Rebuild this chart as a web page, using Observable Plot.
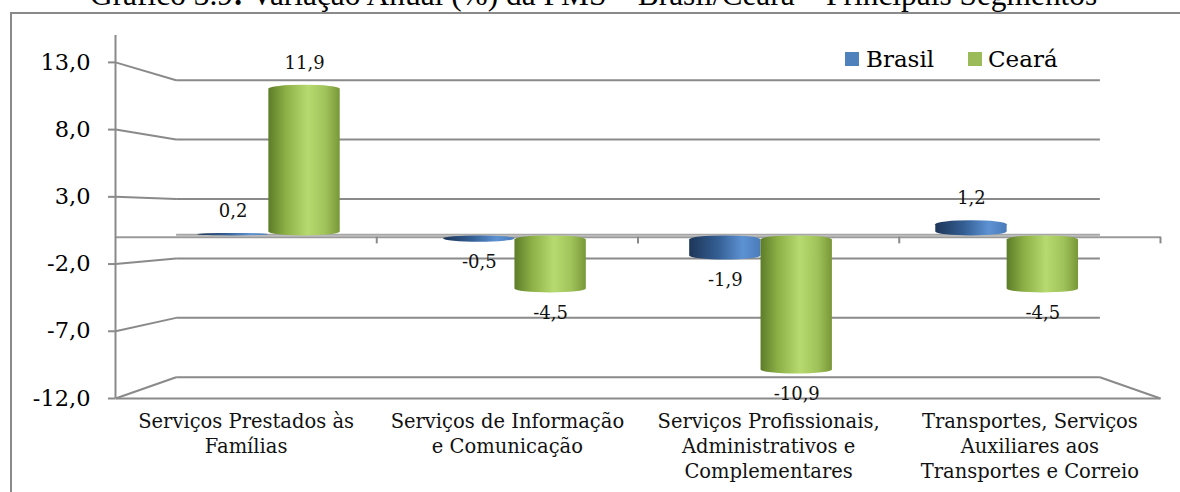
<!DOCTYPE html>
<html><head><meta charset="utf-8">
<script src="https://cdn.jsdelivr.net/npm/d3@7"></script>
<script src="https://cdn.jsdelivr.net/npm/@observablehq/plot@0.6"></script>
<style>
body{margin:0;background:#fff;}
#wrap{position:relative;width:1180px;height:492px;overflow:hidden;background:#fff;}
#title{position:absolute;left:90px;top:-21px;white-space:nowrap;font-family:"Liberation Serif",serif;font-size:31.4px;line-height:31.4px;color:#000;}
#border{position:absolute;left:10px;top:12px;width:2000px;height:2000px;border:2px solid #8a8a8a;box-sizing:border-box;}
#chart{position:absolute;left:0;top:0;}
.lg{position:absolute;font-family:"DejaVu Serif",serif;font-size:23px;line-height:23px;color:#000;white-space:nowrap;}
.sw{position:absolute;width:14px;height:14px;}
</style></head>
<body>
<div id="wrap">
  <div id="title">Gráfico 3.9<b>:</b> Variação Anual (%) da PMS – Brasil/Ceará – Principais Segmentos</div>
  <div id="border"></div>
  <div id="chart"></div>
  <div class="sw" style="left:845px;top:52px;background:#4f81bd"></div>
  <div class="lg" id="lgB" style="left:866px;top:48px">Brasil</div>
  <div class="sw" style="left:968px;top:52px;background:#9bbb59"></div>
  <div class="lg" id="lgC" style="left:988px;top:48px">Ceará</div>
</div>
<script>
const categories = [
  "Serviços Prestados às\nFamílias",
  "Serviços de Informação\ne Comunicação",
  "Serviços Profissionais,\nAdministrativos e\nComplementares",
  "Transportes, Serviços\nAuxiliares aos\nTransportes e Correio"
];
const series = ["Brasil", "Ceará"];
const brasil = [0.2, -0.5, -1.9, 1.2];
const ceara = [11.9, -4.5, -10.9, -4.5];
const yTicks = [13, 8, 3, -2, -7, -12];

const fmt = v => v.toFixed(1).replace(".", ",");

// simple perspective: depth 0 = front plane, 0.5 = bars, 1 = back wall
const VP = [2, 1.6];
const k = d => 1 - 0.116 * d;
const px = (c, d) => VP[0] + k(d) * (c - VP[0]);
const py = (v, d) => VP[1] + k(d) * (v - VP[1]);

const values = [brasil, ceara];
const bars = categories.flatMap((cat, i) => series.map((s, j) => {
  const v = values[j][i];
  return {
    cat, s, v,
    x1: px(i + 0.21 + 0.29 * j, 0.5),
    x2: px(i + 0.50 + 0.29 * j, 0.5),
    y1: py(0, 0.5),
    y2: py(v, 0.5)
  };
}));
const gridColor = "#8a8a8a";
const floorV = yTicks[yTicks.length - 1];

const chart = Plot.plot({
  width: 1180,
  height: 492,
  marginLeft: 115,
  marginRight: 20,
  marginTop: 35,
  marginBottom: 94,
  style: {fontFamily: "DejaVu Serif", background: "transparent", overflow: "visible"},
  x: {domain: [0, categories.length], axis: null},
  y: {domain: [floorV, 15], axis: null},
  marks: [
    // back wall gridlines
    Plot.link(yTicks, {x1: () => px(0, 1), x2: () => px(categories.length, 1), y1: t => py(t, 1), y2: t => py(t, 1), stroke: gridColor, strokeWidth: 2}),
    // left side-wall diagonals
    Plot.link(yTicks, {x1: () => 0, y1: t => t, x2: () => px(0, 1), y2: t => py(t, 1), stroke: gridColor, strokeWidth: 2}),
    // floor front edge and right diagonal
    Plot.link([floorV], {x1: () => 0, x2: () => categories.length, y1: t => t, y2: t => t, stroke: gridColor, strokeWidth: 2}),
    Plot.link([floorV], {x1: () => categories.length, y1: t => t, x2: () => px(categories.length, 1), y2: t => py(t, 1), stroke: gridColor, strokeWidth: 2}),
    // zero plane
    Plot.link([0], {x1: () => px(0, 1), x2: () => px(categories.length, 1), y1: t => py(t, 1), y2: t => py(t, 1), stroke: "#a6a6a6", strokeWidth: 2}),
    Plot.link([0], {x1: () => 0, x2: () => categories.length, y1: t => t, y2: t => t, stroke: "#9a9a9a", strokeWidth: 2}),
    Plot.ruleX(d3.range(1, categories.length + 1), {y1: () => 0, y2: () => -0.5, stroke: gridColor, strokeWidth: 2}),
    // bars
    Plot.rect(bars, {x1: "x1", x2: "x2", y1: "y1", y2: "y2", fill: d => d.s === "Brasil" ? "url(#gBlue)" : "url(#gGreen)", rx: 40, ry: 4}),
    // value labels
    Plot.text(bars.filter(d => d.v >= 0), {x: d => (d.x1 + d.x2) / 2, y: "y2", text: d => fmt(d.v), dy: -22, fontSize: 18, fill: "#111"}),
    Plot.text(bars.filter(d => d.v < 0), {x: d => (d.x1 + d.x2) / 2, y: "y2", text: d => fmt(d.v), dy: 20, fontSize: 18, fill: "#111"}),
    // front vertical axis
    Plot.ruleX([0], {stroke: gridColor, strokeWidth: 2}),
    Plot.axisY(yTicks, {tickSize: 7, tickPadding: 18, tickFormat: fmt, fontSize: 22.5, stroke: gridColor, strokeWidth: 2, fill: "#000"}),
    // category labels
    Plot.text(categories, {x: (d, i) => i + 0.5, y: () => floorV, text: d => d, lineAnchor: "top", dy: 12, fontSize: 19.5, lineHeight: 1.28, fill: "#111"})
  ]
});

const defs = document.createElementNS("http://www.w3.org/2000/svg", "defs");
defs.innerHTML = `
<linearGradient id="gGreen" x1="0" x2="1" y1="0" y2="0">
  <stop offset="0" stop-color="#5d7c28"/>
  <stop offset="0.25" stop-color="#8eb147"/>
  <stop offset="0.55" stop-color="#b7da70"/>
  <stop offset="0.8" stop-color="#a0c25a"/>
  <stop offset="1" stop-color="#789838"/>
</linearGradient>
<linearGradient id="gBlue" x1="0" x2="1" y1="0" y2="0">
  <stop offset="0" stop-color="#1d3658"/>
  <stop offset="0.4" stop-color="#345e93"/>
  <stop offset="0.75" stop-color="#5d92d3"/>
  <stop offset="1" stop-color="#4a7bb9"/>
</linearGradient>`;
chart.insertBefore(defs, chart.firstChild);
document.getElementById("chart").appendChild(chart);
</script>
</body></html>
